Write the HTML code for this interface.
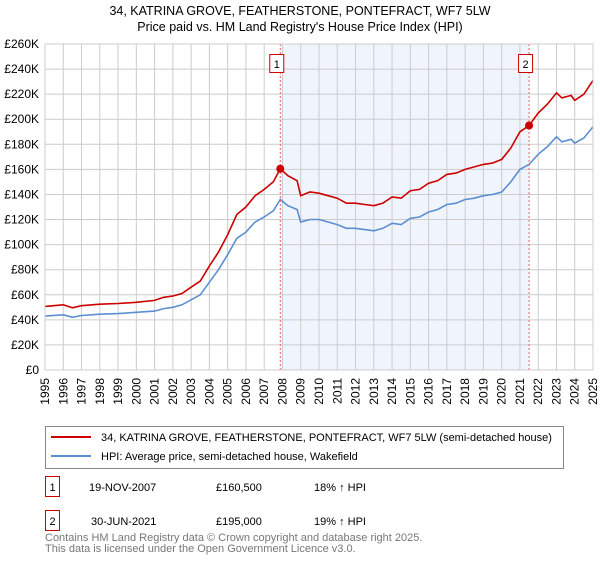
<!DOCTYPE html>
<html><head><meta charset="utf-8"><style>
body{margin:0;background:#fff;font-family:"Liberation Sans","DejaVu Sans",sans-serif;}
</style></head><body>
<svg width="600" height="560" xmlns="http://www.w3.org/2000/svg" font-family="Liberation Sans, DejaVu Sans, sans-serif">
<text x="300" y="15" text-anchor="middle" font-size="12.5">34, KATRINA GROVE, FEATHERSTONE, PONTEFRACT, WF7 5LW</text>
<text x="300" y="31" text-anchor="middle" font-size="12.5">Price paid vs. HM Land Registry's House Price Index (HPI)</text>
<g id="plot"></g>
<g>
<rect x="45.5" y="426.5" width="518" height="42" fill="#fff" stroke="#888"/>
<line x1="51" y1="437" x2="91" y2="437" stroke="#cc0000" stroke-width="2"/>
<text x="101" y="441" font-size="11">34, KATRINA GROVE, FEATHERSTONE, PONTEFRACT, WF7 5LW (semi-detached house)</text>
<line x1="51" y1="456" x2="91" y2="456" stroke="#5b8fd1" stroke-width="2"/>
<text x="101" y="460" font-size="11">HPI: Average price, semi-detached house, Wakefield</text>
</g>
<g font-size="11">
<rect x="45.5" y="476.5" width="14" height="20" fill="#fff" stroke="#cc0000"/><text x="52.5" y="491" text-anchor="middle">1</text>
<text x="89" y="491">19-NOV-2007</text><text x="216" y="491">£160,500</text><text x="314" y="491">18% ↑ HPI</text>
<rect x="45.5" y="510.5" width="14" height="20" fill="#fff" stroke="#cc0000"/><text x="52.5" y="525" text-anchor="middle">2</text>
<text x="91" y="525">30-JUN-2021</text><text x="216" y="525">£195,000</text><text x="314" y="525">19% ↑ HPI</text>
</g>
<text x="45" y="541" font-size="11" fill="#777">Contains HM Land Registry data © Crown copyright and database right 2025.</text>
<text x="45" y="552" font-size="11" fill="#777">This data is licensed under the Open Government Licence v3.0.</text>
</svg>
<script>
const years=[1995,1996,1996.5,1997,1998,1999,2000,2001,2001.5,2002,2002.5,2003,2003.5,2004,2004.5,2005,2005.5,2006,2006.5,2007,2007.5,2007.88,2008.3,2008.8,2009,2009.5,2010,2010.5,2011,2011.5,2012,2012.5,2013,2013.5,2014,2014.5,2015,2015.5,2016,2016.5,2017,2017.5,2018,2018.5,2019,2019.5,2020,2020.5,2021,2021.5,2022,2022.5,2023,2023.3,2023.8,2024,2024.5,2025];
const hpiValues=[43,44,42,43.5,44.5,45,46,47,49,50,52,56,60,70,80,92,105,110,118,122,127,136,131,128,118,120,120,118,116,113,113,112,111,113,117,116,121,122,126,128,132,133,136,137,139,140,142,150,160,164,172,178,186,182,184,181,185,194];
const priceValues=[50.7,52,49.6,51.3,52.5,53,54,55.5,58,59,61,66,71,83,94,108,124,130,139,144,150,160.5,155,151,139,142,141,139,137,133,133,132,131,133,138,137,143,144,149,151,156,157,160,162,164,165,168,177,190,195,205,212,221,217,219,215,220,231];
const yTicks=[0,20,40,60,80,100,120,140,160,180,200,220,240,260];
const xTicks=[1995,1996,1997,1998,1999,2000,2001,2002,2003,2004,2005,2006,2007,2008,2009,2010,2011,2012,2013,2014,2015,2016,2017,2018,2019,2020,2021,2022,2023,2024,2025];
const sales=[{n:"1",year:2007.88,value:160.5},{n:"2",year:2021.5,value:195}];
const X0=45,X1=593,Y0=370,Y1=44;
const xs=y=>X0+(y-1995)/30*(X1-X0);
const ys=v=>Y0-v/260*(Y0-Y1);
const NS="http://www.w3.org/2000/svg";
const g=document.getElementById('plot');
function mk(t,a){const e=document.createElementNS(NS,t);for(const k in a)e.setAttribute(k,a[k]);g.appendChild(e);return e;}
const sh=mk('rect',{x:xs(sales[0].year),y:Y1,width:xs(sales[1].year)-xs(sales[0].year),height:Y0-Y1,fill:'#f0f4fc'});


xTicks.forEach(t=>{const l=mk('line',{x1:xs(t),x2:xs(t),y1:Y1,y2:Y0,stroke:'#ccc'});


const px=xs(t)+4,py=Y0+8;
const tx=mk('text',{x:px,y:py,'text-anchor':'end','font-size':'12',transform:'rotate(-90 '+px+' '+py+')'});tx.textContent=t;

});
yTicks.forEach(t=>{const l=mk('line',{x1:X0,x2:X1,y1:ys(t),y2:ys(t),stroke:'#ccc'});


const tx=mk('text',{x:X0-6,y:ys(t)+4,'text-anchor':'end','font-size':'12'});tx.textContent=t===0?'£0':'£'+t+'K';

});
function path(vals){return vals.map((v,i)=>(i?'L':'M')+xs(years[i]).toFixed(1)+','+ys(v).toFixed(1)).join('');}
const hl=mk('path',{d:path(hpiValues),fill:'none',stroke:'#5b8fd1','stroke-width':1.6});


const pl=mk('path',{d:path(priceValues),fill:'none',stroke:'#cc0000','stroke-width':1.6});


sales.forEach(s=>{const x=xs(s.year);
const l=mk('line',{x1:x,x2:x,y1:Y1,y2:Y0,stroke:'#f06060','stroke-dasharray':'2,2'});


const c=mk('circle',{cx:x,cy:ys(s.value),r:4,fill:'#cc0000'});


const r=mk('rect',{x:x-10.5,y:54.5,width:14,height:18,fill:'#fff',stroke:'#cc0000'});


const t=mk('text',{x:x-3.5,y:68,'text-anchor':'middle','font-size':'11'});t.textContent=s.n;

});
const fr=mk('rect',{x:X0,y:Y1,width:X1-X0,height:Y0-Y1,fill:'none',stroke:'#ccc'});


</script>
</body></html>
